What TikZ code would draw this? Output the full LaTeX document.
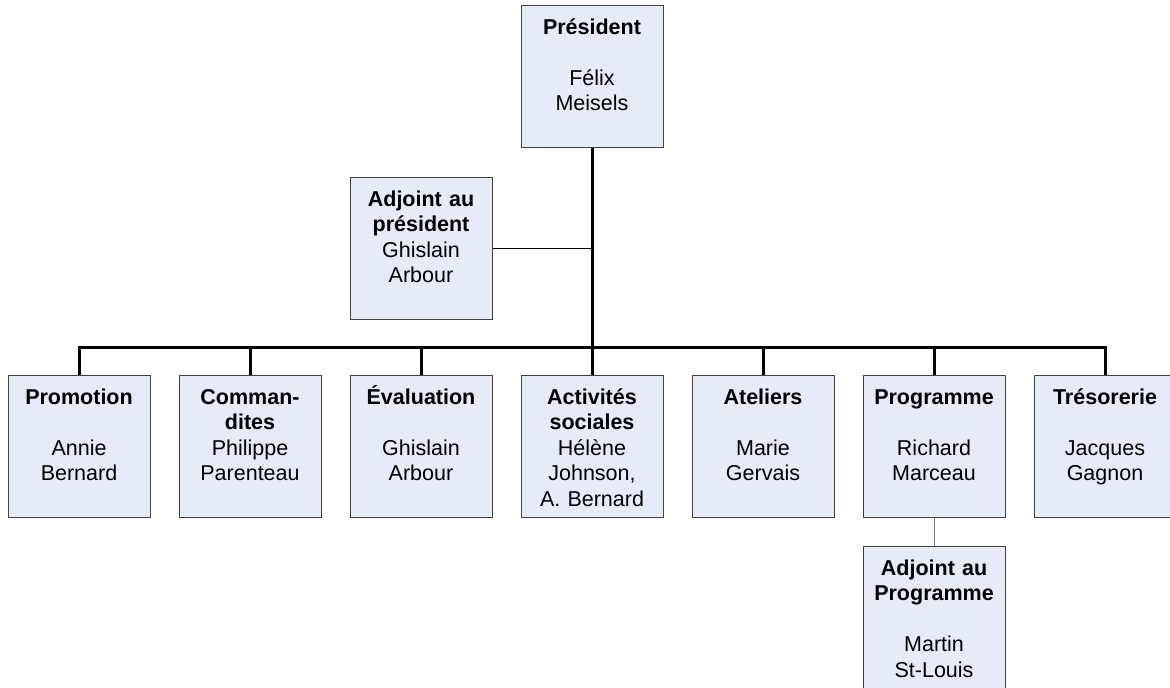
\documentclass[tikz,border=0pt]{standalone}
\usepackage{fontspec}
\setmainfont{Liberation Sans}
\usetikzlibrary{calc}
\definecolor{unitfill}{HTML}{E6ECF7}
\definecolor{unitline}{HTML}{404040}
\definecolor{linkgray}{HTML}{7F7F7F}

\begin{document}
\begin{tikzpicture}[x=0.5pt, y=-0.5pt,
  unit/.style={draw=unitline, fill=unitfill, line width=0.5pt,
    text width=66pt, align=center, minimum width=71pt,
    inner xsep=2.5pt, inner ysep=0pt, text height=14.5pt, text depth=56.5pt,
    font=\fontsize{10.75}{12.75}\selectfont},
  trunk/.style={black, line width=1.5pt},
  branch/.style={black, line width=0.5pt}]

  % Page frame
  \useasboundingbox (0,0) rectangle (1170,687);

  % ==================== TOP ====================
  \node[unit] (pres) at (592,76) {\textbf{Président}\\[12.75pt]Félix\\Meisels};
  \node[unit] (adjp) at (421,248) {\textbf{Adjoint au}\\\textbf{président}\\Ghislain\\Arbour};

  % ==================== COMMITTEES ====================
  \node[unit] (prom)  at (79,446)   {\textbf{Promotion}\\[12.75pt]Annie\\Bernard};
  \node[unit] (comm)  at (250,446)  {\textbf{Comman-}\\\textbf{dites}\\Philippe\\Parenteau};
  \node[unit] (eval)  at (421,446)  {\textbf{Évaluation}\\[12.75pt]Ghislain\\Arbour};
  \node[unit] (activ) at (592,446)  {\textbf{Activités}\\\textbf{sociales}\\Hélène\\Johnson,\\A. Bernard};
  \node[unit] (atel)  at (763,446)  {\textbf{Ateliers}\\[12.75pt]Marie\\Gervais};
  \node[unit] (progr) at (934,446)  {\textbf{Programme}\\[12.75pt]Richard\\Marceau};
  \node[unit] (treso) at (1105,446) {\textbf{Trésorerie}\\[12.75pt]Jacques\\Gagnon};

  % Assistant under Programme
  \node[unit] (adjprog) at (934,617) {\textbf{Adjoint au}\\\textbf{Programme}\\[12.75pt]Martin\\St-Louis};

  % ==================== LINKS ====================
  \coordinate (bus) at (592,347);
  \draw[trunk] (pres.south) -- (bus);
  \draw[trunk] (prom.north) |- (bus) -| (treso.north);
  \foreach \n in {comm, eval, activ, atel, progr} {
    \draw[trunk] (bus -| \n.north) -- (\n.north);
  }
  \draw[branch] (adjp.east) -- (adjp.east -| pres.south);
  \draw[branch, draw=linkgray] (progr.south) -- (adjprog.north);

\end{tikzpicture}
\end{document}
